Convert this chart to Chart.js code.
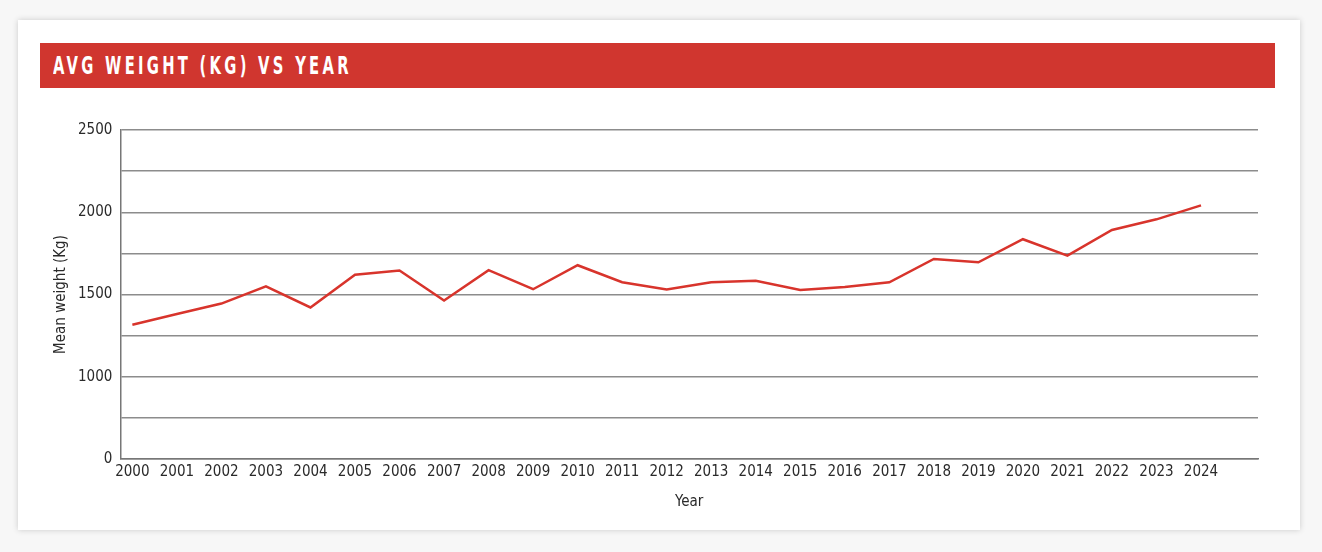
<!DOCTYPE html>
<html>
<head>
<meta charset="utf-8">
<script src="https://cdn.jsdelivr.net/npm/chart.js@4.4.1/dist/chart.umd.min.js"></script>
<style>
    html, body { margin: 0; padding: 0; background: #f7f7f7; }
    body { width: 1322px; height: 552px; position: relative; overflow: hidden; }
    .card {
        position: absolute; left: 18px; top: 20px; width: 1282px; height: 510px;
        background: #fff; box-shadow: 0 0 6px rgba(0, 0, 0, .18);
    }
    .bar {
        position: absolute; left: 40px; top: 43px; width: 1235px; height: 45px;
        background: #d0362f; color: #fff;
        font: bold 20px "DejaVu Sans Condensed", "Liberation Sans Narrow", sans-serif;
        letter-spacing: 4px; line-height: 46px; padding-left: 13px; box-sizing: border-box;
    }
    .bar span { display: inline-block; transform: scale(0.82, 1.2); transform-origin: 0 50%; white-space: nowrap; }
    .wrap { position: absolute; left: 40px; top: 100px; width: 1235px; height: 420px; }
</style>
</head>
<body>
<div class="card"></div>
<div class="bar"><span>AVG WEIGHT (KG) VS YEAR</span></div>
<div class="wrap"><canvas id="chart"></canvas></div>
<script>
const years = [2000, 2001, 2002, 2003, 2004, 2005, 2006, 2007, 2008, 2009, 2010, 2011, 2012,
    2013, 2014, 2015, 2016, 2017, 2018, 2019, 2020, 2021, 2022, 2023, 2024];
const weights = [1316, 1382, 1445, 1550, 1421, 1620, 1646, 1464, 1648, 1532, 1678, 1575, 1530,
    1575, 1583, 1528, 1546, 1574, 1716, 1696, 1836, 1736, 1892, 1957, 2042];
// the picture's lowest gridline is labelled 0 although it sits one step under 750
const yLabels = { 500: "0", 1000: "1000", 1500: "1500", 2000: "2000", 2500: "2500" };

const font = "'DejaVu Sans Condensed', 'Liberation Sans Narrow', sans-serif";
const chart = document.querySelector("#chart");

new Chart(chart, {
    type: "line",
    data: {
        datasets: [{
            data: years.map((y, i) => ({ x: y, y: weights[i] })),
            borderColor: "#d8342c",
            backgroundColor: "#d8342c",
            borderWidth: 2.5,
            pointRadius: 0,
            tension: 0,
        }]
    },
    options: {
        responsive: true,
        maintainAspectRatio: false,
        animation: false,
        layout: { padding: { top: 30, right: 17, left: 12, bottom: 9 } },
        plugins: {
            legend: { display: false },
            tooltip: { enabled: false },
        },
        scales: {
            x: {
                type: "linear",
                min: 1999.73,
                max: 2025.28,
                grid: { display: false, drawTicks: false },
                border: { display: true, color: "#777", width: 1.5 },
                ticks: {
                    stepSize: 1,
                    includeBounds: false,
                    autoSkip: false,
                    maxRotation: 0,
                    padding: 4,
                    color: "#2a2a2a",
                    font: { family: font, size: 15 },
                    callback: v => (Number.isInteger(v) && v <= 2024 ? String(v) : ""),
                },
                title: {
                    display: true,
                    text: "Year",
                    color: "#2a2a2a",
                    padding: { top: 8, bottom: 0 },
                    font: { family: font, size: 15 },
                },
            },
            y: {
                min: 500,
                max: 2500,
                grid: { color: "#8c8c8c", lineWidth: 1.5, drawTicks: false },
                border: { display: true, color: "#777", width: 1.5 },
                ticks: {
                    stepSize: 250,
                    autoSkip: false,
                    padding: 8,
                    color: "#2a2a2a",
                    font: { family: font, size: 15 },
                    callback: v => yLabels[v] || "",
                },
                title: {
                    display: true,
                    text: "Mean weight (Kg)",
                    color: "#2a2a2a",
                    padding: { top: 0, bottom: 0 },
                    font: { family: font, size: 15 },
                },
            },
        },
    },
});
</script>
</body>
</html>
